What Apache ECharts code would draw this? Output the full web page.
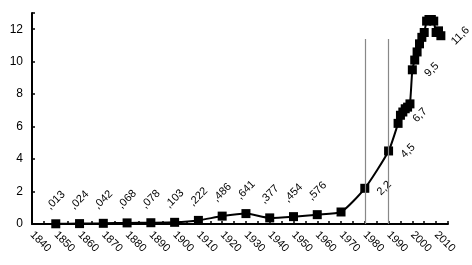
<!DOCTYPE html>
<html>
<head>
<meta charset="utf-8">
<script src="https://cdn.jsdelivr.net/npm/echarts@6/dist/echarts.min.js"></script>
<style>
html,body{margin:0;padding:0;background:#fff;}
#c{width:472px;height:265px;}
</style>
</head>
<body>
<div id="c"></div>
<script>
const years = [1850,1860,1870,1880,1890,1900,1910,1920,1930,1940,1950,1960,1970,1980,1990,
  1994,1995,1996,1997,1998,1999,2000,2001,2002,2003,2004,2005,2006,2007,2008,2009,2010,2011,2012];
const values = [0.013,0.024,0.042,0.068,0.078,0.103,0.222,0.486,0.641,0.377,0.454,0.576,0.74,2.2,4.5,
  6.2,6.7,6.9,7.1,7.2,7.4,9.5,10.1,10.6,11.1,11.5,11.8,12.5,12.6,12.6,12.5,11.8,11.9,11.6];
const pointLabels = [',013',',024',',042',',068',',078',',103',',222',',486',',641',',377',',454',',576',null,'2,2','4,5',
  null,'6,7',null,null,null,null,'9,5',null,null,null,null,null,null,null,null,null,null,null,'11,6'];
const xTickLabels = [1840,1850,1860,1870,1880,1890,1900,1910,1920,1930,1940,1950,1960,1970,1980,1990,2000,2010];
const yTickLabels = [0,2,4,6,8,10,12];
const refYears = [1980,1990];
const refTop = 11.4;

const font = 'Liberation Sans, Arial, sans-serif';
const data = years.map((y,i)=>{
  const lab = pointLabels[i];
  const item = {value:[y, values[i]]};
  if (lab) {
    const late = y >= 1980;
    item.label = late ?
      {show:true, formatter:lab, position:'right', distance:15, rotate:45, align:'center', verticalAlign:'middle'} :
      {show:true, formatter:lab, position:'top', distance:19, rotate:45, align:'center', verticalAlign:'middle'};
  }
  return item;
});

const chart = echarts.init(document.getElementById('c'), null, {renderer:'canvas'});
chart.setOption({
  animation:false,
  backgroundColor:'#fff',
  grid:{left:32, right:24, top:13, bottom:41, containLabel:false},
  xAxis:{
    type:'value', min:1840, max:2015, interval:5,
    splitLine:{show:false},
    axisLine:{lineStyle:{color:'#000', width:2}},
    axisTick:{inside:true, length:3, lineStyle:{color:'#000', width:1.5}},
    axisLabel:{
      rotate:-45, margin:9, color:'#000', fontFamily:font, fontSize:11,
      formatter:v=> xTickLabels.indexOf(v) >= 0 ? String(v) : ''
    }
  },
  yAxis:{
    type:'value', min:0, max:13, interval:2,
    splitLine:{show:false},
    axisLine:{show:true, lineStyle:{color:'#000', width:2}},
    axisTick:{show:true, inside:true, length:3, lineStyle:{color:'#000', width:1.5}},
    axisLabel:{
      margin:9, color:'#000', fontFamily:font, fontSize:12,
      formatter:v=> yTickLabels.indexOf(v) >= 0 ? String(v) : ''
    }
  },
  series:[{
    type:'line',
    data:data,
    smooth:0.2,
    symbol:'rect',
    symbolSize:9,
    itemStyle:{color:'#000'},
    lineStyle:{color:'#000', width:2},
    label:{color:'#000', fontFamily:font, fontSize:11},
    markLine:{
      silent:true, symbol:['none','none'],
      label:{show:false},
      lineStyle:{color:'#888', width:1.2, type:'solid'},
      data: refYears.map(y=>[{coord:[y,0]},{coord:[y,refTop]}])
    },
    z:3
  }]
});
</script>
</body>
</html>
